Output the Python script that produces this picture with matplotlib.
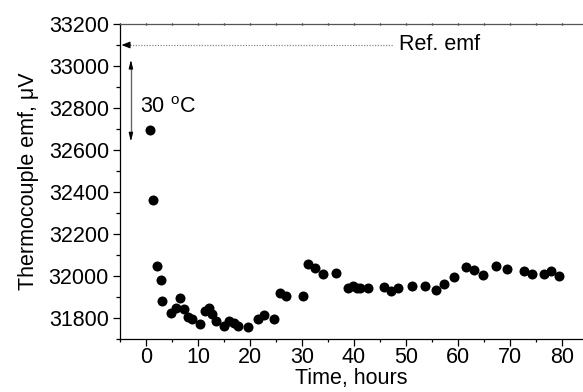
import matplotlib
matplotlib.use("Agg")
import matplotlib.pyplot as plt
from matplotlib.ticker import MultipleLocator

plt.rcParams['font.family'] = ['Liberation Sans', 'DejaVu Sans']
plt.rcParams['mathtext.fontset'] = 'custom'
plt.rcParams['mathtext.rm'] = 'Liberation Sans'
plt.rcParams['mathtext.it'] = 'Liberation Sans:italic'

time_h = [0.83, 1.41, 2.12, 2.82, 3.14, 4.74, 5.78, 6.55, 7.38, 8.02, 8.86,
          10.46, 11.37, 12.06, 12.72, 13.41, 15.03, 16.05, 17.01, 17.78, 19.58,
          21.64, 22.74, 24.72, 25.88, 26.97, 30.17, 31.21, 32.56, 34.03, 36.53,
          38.92, 39.81, 40.66, 41.23, 42.7, 45.72, 47.07, 48.55, 51.18, 53.68,
          55.8, 57.42, 59.21, 61.66, 63.06, 64.8, 67.3, 69.48, 72.76, 74.24,
          76.6, 77.9, 79.4]
emf_uV = [32694, 32363, 32046, 31979, 31879, 31823, 31847, 31895, 31842, 31807, 31797,
          31771, 31834, 31850, 31817, 31788, 31763, 31785, 31778, 31763, 31758,
          31797, 31812, 31797, 31919, 31903, 31904, 32055, 32038, 32010, 32012,
          31945, 31950, 31941, 31945, 31945, 31949, 31930, 31945, 31952, 31950,
          31935, 31962, 31995, 32041, 32027, 32005, 32048, 32035, 32022, 32010,
          32010, 32025, 32001]

ref_emf = 33100
ref_text = "Ref. emf"
delta_label = r"30 $^{\rm o}$C"
delta_top, delta_bottom = 33030, 32640

fs = 15.5
fig = plt.figure(figsize=(5.83, 3.92), dpi=100)
ax = fig.add_axes([0.2058, 0.1352, 0.7942, 0.8036])

ax.scatter(time_h, emf_uV, s=52, color='black', zorder=3, linewidths=0)

ax.set_xlim(-5, 84.1)
ax.set_ylim(31700, 33200)

# reference line with arrow head
ax.plot([-3.6, 47.5], [ref_emf, ref_emf], linestyle=(0, (1, 1.2)), color='#888888', lw=0.9)
ax.annotate('', xy=(-4.7, ref_emf), xytext=(-3.0, ref_emf),
            arrowprops=dict(arrowstyle='-|>,head_length=0.5,head_width=0.2', color='black', lw=0.8,
                            shrinkA=0, shrinkB=0))
ax.text(48.6, ref_emf, ref_text, fontsize=fs, va='center', ha='left')

# 30 C double arrow (gray shaft, black heads)
ax.plot([-2.9, -2.9], [delta_bottom + 30, delta_top - 30], color='#666666', lw=1.0)
for y_tip, y_from in [(delta_top, delta_top - 40), (delta_bottom, delta_bottom + 40)]:
    ax.annotate('', xy=(-2.9, y_tip), xytext=(-2.9, y_from),
                arrowprops=dict(arrowstyle='-|>,head_length=0.5,head_width=0.12', color='black', lw=0.8,
                                shrinkA=0, shrinkB=0))
ax.text(-1.2, 32800, delta_label, fontsize=fs, va='center', ha='left')

ax.set_xlabel('Time, hours', fontsize=fs, labelpad=0)
ax.set_ylabel('Thermocouple emf, μV', fontsize=fs, labelpad=7)

ax.xaxis.set_major_locator(MultipleLocator(10))
ax.xaxis.set_minor_locator(MultipleLocator(5))
ax.yaxis.set_major_locator(MultipleLocator(200))
ax.yaxis.set_minor_locator(MultipleLocator(100))
ax.tick_params(axis='both', which='major', direction='out', length=5, width=0.9, labelsize=fs, pad=3)
ax.tick_params(axis='both', which='minor', direction='out', length=3, width=0.9)
ax.tick_params(axis='x', which='both', top=True, labeltop=False)
ax.tick_params(axis='x', which='both', direction='inout', length=2)
ax.tick_params(axis='x', which='major', length=5)
for t in ax.xaxis.get_major_ticks() + ax.xaxis.get_minor_ticks():
    t.tick1line.set_marker(3)  # tick pointing down (outward) on bottom
    t.tick2line.set_markersize(2)
ax.spines['right'].set_visible(False)
ax.spines['top'].set_color('#555555')
for s in ['left', 'bottom', 'top']:
    ax.spines[s].set_linewidth(0.9)

fig.savefig('out.png', dpi=100)
